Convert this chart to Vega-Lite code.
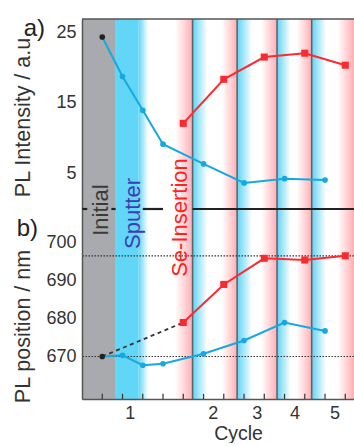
{
  "$schema": "https://vega.github.io/schema/vega-lite/v6.json",
  "padding": {"left": 12, "top": 17, "right": 0, "bottom": 0},
  "spacing": 0,
  "bounds": "flush",
  "config": {
    "view": {"stroke": null},
    "font": "Liberation Sans",
    "axis": {"grid": false, "zindex": 1, "labelOverlap": false, "labelFont": "Liberation Sans", "titleFont": "Liberation Sans", "labelColor": "#333", "titleColor": "#333", "titleFontWeight": "normal", "domainColor": "#555", "domainWidth": 1.5}
  },
  "datasets": {
    "pl": [
      {"panel": "a", "series": "Sputter", "step": 0, "value": 24.3},
      {"panel": "a", "series": "Sputter", "step": 1, "value": 18.7},
      {"panel": "a", "series": "Sputter", "step": 2, "value": 13.9},
      {"panel": "a", "series": "Sputter", "step": 3, "value": 9.1},
      {"panel": "a", "series": "Sputter", "step": 5, "value": 6.3},
      {"panel": "a", "series": "Sputter", "step": 7, "value": 3.6},
      {"panel": "a", "series": "Sputter", "step": 9, "value": 4.2},
      {"panel": "a", "series": "Sputter", "step": 11, "value": 4.0},
      {"panel": "a", "series": "Se-Insertion", "step": 4, "value": 12.05},
      {"panel": "a", "series": "Se-Insertion", "step": 6, "value": 18.3},
      {"panel": "a", "series": "Se-Insertion", "step": 8, "value": 21.45},
      {"panel": "a", "series": "Se-Insertion", "step": 10, "value": 22.0},
      {"panel": "a", "series": "Se-Insertion", "step": 12, "value": 20.3},
      {"panel": "b", "series": "Sputter", "step": 0, "value": 670.0},
      {"panel": "b", "series": "Sputter", "step": 1, "value": 670.3},
      {"panel": "b", "series": "Sputter", "step": 2, "value": 667.7},
      {"panel": "b", "series": "Sputter", "step": 3, "value": 668.1},
      {"panel": "b", "series": "Sputter", "step": 5, "value": 670.7},
      {"panel": "b", "series": "Sputter", "step": 7, "value": 674.2},
      {"panel": "b", "series": "Sputter", "step": 9, "value": 678.9},
      {"panel": "b", "series": "Sputter", "step": 11, "value": 676.7},
      {"panel": "b", "series": "Se-Insertion", "step": 4, "value": 678.9},
      {"panel": "b", "series": "Se-Insertion", "step": 6, "value": 688.9},
      {"panel": "b", "series": "Se-Insertion", "step": 8, "value": 695.75},
      {"panel": "b", "series": "Se-Insertion", "step": 10, "value": 695.3},
      {"panel": "b", "series": "Se-Insertion", "step": 12, "value": 696.4}
    ],
    "bands": [
      {"zone": "initial", "from": -1, "to": 0.67},
      {"zone": "sputter", "from": 0.67, "to": 1.78},
      {"zone": "fade_in", "from": 1.78, "to": 2.27},
      {"zone": "fade_in", "from": 4.46, "to": 5.18},
      {"zone": "fade_in", "from": 6.66, "to": 7.4},
      {"zone": "fade_in", "from": 8.63, "to": 9.3},
      {"zone": "fade_in", "from": 10.34, "to": 11.05},
      {"zone": "fade_out", "from": 3.6, "to": 4.46},
      {"zone": "fade_out", "from": 5.9, "to": 6.66},
      {"zone": "fade_out", "from": 7.85, "to": 8.63},
      {"zone": "fade_out", "from": 9.6, "to": 10.34},
      {"zone": "fade_out", "from": 11.6, "to": 12.43}
    ],
    "cycles": [
      {"cycle": "1", "center": 1.38},
      {"cycle": "2", "center": 5.48, "start": 4.46},
      {"cycle": "3", "center": 7.65, "start": 6.66},
      {"cycle": "4", "center": 9.52, "start": 8.63},
      {"cycle": "5", "center": 11.49, "start": 10.34}
    ],
    "refs": [{"level": 670}, {"level": 696.4}],
    "separator": [
      {"from": -1, "to": -0.74},
      {"from": 0.45, "to": 0.66},
      {"from": 2.0, "to": 3.0},
      {"from": 4.46, "to": 12.43}
    ]
  },
  "vconcat": [
    {
      "width": 272,
      "height": 190,
      "layer": [
        {
          "data": {"name": "bands"},
          "transform": [{"filter": "datum.zone == 'initial'"}],
          "mark": {"type": "rect", "fill": "#a8aaad"},
          "encoding": {
            "x": {"field": "from", "type": "quantitative", "scale": {"domain": [-1, 12.43], "zero": false, "nice": false}, "axis": null},
            "x2": {"field": "to"}
          }
        },
        {
          "data": {"name": "bands"},
          "transform": [{"filter": "datum.zone == 'sputter'"}],
          "mark": {"type": "rect", "fill": "#62d6f6"},
          "encoding": {"x": {"field": "from", "type": "quantitative", "scale": {"domain": [-1, 12.43], "zero": false, "nice": false}, "axis": null}, "x2": {"field": "to"}}
        },
        {
          "data": {"name": "bands"},
          "transform": [{"filter": "datum.zone == 'fade_in'"}],
          "mark": {"type": "rect", "fill": {"gradient": "linear", "x1": 0, "y1": 0, "x2": 1, "y2": 0, "stops": [{"offset": 0, "color": "#5fd4f5"}, {"offset": 0.45, "color": "#a8e7f9"}, {"offset": 1, "color": "#ffffff"}]}},
          "encoding": {"x": {"field": "from", "type": "quantitative", "scale": {"domain": [-1, 12.43], "zero": false, "nice": false}, "axis": null}, "x2": {"field": "to"}}
        },
        {
          "data": {"name": "bands"},
          "transform": [{"filter": "datum.zone == 'fade_out'"}],
          "mark": {"type": "rect", "fill": {"gradient": "linear", "x1": 0, "y1": 0, "x2": 1, "y2": 0, "stops": [{"offset": 0, "color": "#ffffff"}, {"offset": 0.5, "color": "#ffd8da"}, {"offset": 1, "color": "#ffaeb3"}]}},
          "encoding": {"x": {"field": "from", "type": "quantitative", "scale": {"domain": [-1, 12.43], "zero": false, "nice": false}, "axis": null}, "x2": {"field": "to"}}
        },
        {
          "data": {"name": "cycles"},
          "transform": [{"filter": "datum.start != null"}],
          "mark": {"type": "rule", "color": "#5b6770", "strokeWidth": 1.6},
          "encoding": {"x": {"field": "start", "type": "quantitative", "scale": {"domain": [-1, 12.43], "zero": false, "nice": false}, "axis": null}}
        },
        {
          "data": {"values": [{"edge": "top"}]},
          "mark": {"type": "rule", "color": "#555", "strokeWidth": 1.5},
          "encoding": {"y": {"datum": 26.85, "type": "quantitative", "scale": {"domain": [-0.1, 26.85], "zero": false, "nice": false}}}
        },
        {
          "data": {"name": "pl"},
          "transform": [{"filter": "datum.panel == 'a'"}],
          "mark": {"type": "line", "strokeWidth": 2},
          "encoding": {
            "x": {"field": "step", "type": "quantitative", "scale": {"domain": [-1, 12.43], "zero": false, "nice": false}, "axis": null},
            "y": {"field": "value", "type": "quantitative", "scale": {"domain": [-0.1, 26.85], "zero": false, "nice": false}, "axis": {"zindex": 1, "values": [5, 15, 25], "ticks": false, "labelPadding": 6, "labelFontSize": 18, "title": "PL Intensity / a.u.", "titleFontSize": 21.5, "titleAngle": 270, "titleBaseline": "middle", "titleX": -59, "titleY": 95}},
            "color": {"field": "series", "type": "nominal", "scale": {"domain": ["Sputter", "Se-Insertion"], "range": ["#16a8e2", "#fb2a30"]}, "legend": null}
          }
        },
        {
          "data": {"name": "pl"},
          "transform": [{"filter": "datum.panel == 'a'"}],
          "mark": {"type": "point", "filled": true, "opacity": 1},
          "encoding": {
            "x": {"field": "step", "type": "quantitative", "scale": {"domain": [-1, 12.43], "zero": false, "nice": false}, "axis": null},
            "y": {"field": "value", "type": "quantitative", "scale": {"domain": [-0.1, 26.85], "zero": false, "nice": false}},
            "shape": {"field": "series", "type": "nominal", "scale": {"domain": ["Sputter", "Se-Insertion"], "range": ["circle", "square"]}, "legend": null},
            "size": {"field": "series", "type": "nominal", "scale": {"domain": ["Sputter", "Se-Insertion"], "range": [32, 50]}, "legend": null},
            "color": {"condition": {"test": "datum.step == 0", "value": "#222222"}, "field": "series", "type": "nominal", "scale": {"domain": ["Sputter", "Se-Insertion"], "range": ["#16a8e2", "#fb2a30"]}, "legend": null}
          }
        },
        {
          "data": {"values": [{"label": "a)"}]},
          "mark": {"type": "text", "fontSize": 24, "color": "#222", "align": "center", "baseline": "middle"},
          "encoding": {"text": {"field": "label"}, "x": {"datum": -3.35, "type": "quantitative", "scale": {"domain": [-1, 12.43], "zero": false, "nice": false}, "axis": null}, "y": {"datum": 25.38, "type": "quantitative", "scale": {"domain": [-0.1, 26.85], "zero": false, "nice": false}}}
        }
      ]
    },
    {
      "width": 272,
      "height": 190,
      "layer": [
        {
          "data": {"name": "bands"},
          "transform": [{"filter": "datum.zone == 'initial'"}],
          "mark": {"type": "rect", "fill": "#a8aaad"},
          "encoding": {
            "x": {"field": "from", "type": "quantitative", "scale": {"domain": [-1, 12.43], "zero": false, "nice": false}, "axis": {
              "orient": "bottom",
              "zindex": 1,
              "labels": false,
              "ticks": false,
              "domain": true,
              "title": "Cycle",
              "titleFontSize": 19.5,
              "titleX": 156,
              "titlePadding": 25
            }},
            "x2": {"field": "to"}
          }
        },
        {
          "data": {"name": "bands"},
          "transform": [{"filter": "datum.zone == 'sputter'"}],
          "mark": {"type": "rect", "fill": "#62d6f6"},
          "encoding": {"x": {"field": "from", "type": "quantitative", "scale": {"domain": [-1, 12.43], "zero": false, "nice": false}, "title": "Cycle"}, "x2": {"field": "to"}}
        },
        {
          "data": {"name": "bands"},
          "transform": [{"filter": "datum.zone == 'fade_in'"}],
          "mark": {"type": "rect", "fill": {"gradient": "linear", "x1": 0, "y1": 0, "x2": 1, "y2": 0, "stops": [{"offset": 0, "color": "#5fd4f5"}, {"offset": 0.45, "color": "#a8e7f9"}, {"offset": 1, "color": "#ffffff"}]}},
          "encoding": {"x": {"field": "from", "type": "quantitative", "scale": {"domain": [-1, 12.43], "zero": false, "nice": false}, "title": "Cycle"}, "x2": {"field": "to"}}
        },
        {
          "data": {"name": "bands"},
          "transform": [{"filter": "datum.zone == 'fade_out'"}],
          "mark": {"type": "rect", "fill": {"gradient": "linear", "x1": 0, "y1": 0, "x2": 1, "y2": 0, "stops": [{"offset": 0, "color": "#ffffff"}, {"offset": 0.5, "color": "#ffd8da"}, {"offset": 1, "color": "#ffaeb3"}]}},
          "encoding": {"x": {"field": "from", "type": "quantitative", "scale": {"domain": [-1, 12.43], "zero": false, "nice": false}, "title": "Cycle"}, "x2": {"field": "to"}}
        },
        {
          "data": {"name": "cycles"},
          "transform": [{"filter": "datum.start != null"}],
          "mark": {"type": "rule", "color": "#5b6770", "strokeWidth": 1.6},
          "encoding": {"x": {"field": "start", "type": "quantitative", "scale": {"domain": [-1, 12.43], "zero": false, "nice": false}, "title": "Cycle"}}
        },
        {
          "data": {"name": "refs"},
          "mark": {"type": "rule", "color": "#333", "strokeWidth": 1.2, "strokeDash": [1.5, 1.5]},
          "encoding": {"y": {"field": "level", "type": "quantitative", "scale": {"domain": [658.85, 708.68], "zero": false, "nice": false}, "title": "PL position / nm"}}
        },
        {
          "data": {"name": "pl"},
          "transform": [{"filter": "datum.panel == 'b'"}],
          "mark": {"type": "rule", "color": "#333", "strokeWidth": 1.2},
          "encoding": {"x": {"field": "step", "type": "quantitative", "scale": {"domain": [-1, 12.43], "zero": false, "nice": false}, "title": "Cycle"}, "y": {"datum": 658.85, "type": "quantitative", "scale": {"domain": [658.85, 708.68], "zero": false, "nice": false}, "title": "PL position / nm"}, "y2": {"datum": 660.2}}
        },
        {
          "data": {"name": "separator"},
          "mark": {"type": "rule", "color": "#222", "strokeWidth": 2.2},
          "encoding": {"x": {"field": "from", "type": "quantitative", "scale": {"domain": [-1, 12.43], "zero": false, "nice": false}, "title": "Cycle"}, "x2": {"field": "to"}, "y": {"datum": 708.68, "type": "quantitative", "scale": {"domain": [658.85, 708.68], "zero": false, "nice": false}, "title": "PL position / nm"}}
        },
        {
          "data": {"name": "pl"},
          "transform": [{"filter": "datum.panel == 'b' && ((datum.series == 'Sputter' && datum.step == 0) || (datum.series == 'Se-Insertion' && datum.step == 4))"}],
          "mark": {"type": "line", "color": "#333", "strokeWidth": 1.8, "strokeDash": [4, 3.5]},
          "encoding": {"x": {"field": "step", "type": "quantitative", "scale": {"domain": [-1, 12.43], "zero": false, "nice": false}, "title": "Cycle"}, "y": {"field": "value", "type": "quantitative", "scale": {"domain": [658.85, 708.68], "zero": false, "nice": false}, "title": "PL position / nm"}}
        },
        {
          "data": {"name": "pl"},
          "transform": [{"filter": "datum.panel == 'b'"}],
          "mark": {"type": "line", "strokeWidth": 2},
          "encoding": {
            "x": {"field": "step", "type": "quantitative", "scale": {"domain": [-1, 12.43], "zero": false, "nice": false}, "title": "Cycle"},
            "y": {"field": "value", "type": "quantitative", "scale": {"domain": [658.85, 708.68], "zero": false, "nice": false}, "axis": {"zindex": 1, "values": [670, 680, 690, 700], "ticks": false, "labelPadding": 6, "labelFontSize": 18, "title": "PL position / nm", "titleFontSize": 21.5, "titleAngle": 270, "titleBaseline": "middle", "titleX": -59, "titleY": 117}},
            "color": {"field": "series", "type": "nominal", "scale": {"domain": ["Sputter", "Se-Insertion"], "range": ["#16a8e2", "#fb2a30"]}, "legend": null}
          }
        },
        {
          "data": {"name": "pl"},
          "transform": [{"filter": "datum.panel == 'b'"}],
          "mark": {"type": "point", "filled": true, "opacity": 1},
          "encoding": {
            "x": {"field": "step", "type": "quantitative", "scale": {"domain": [-1, 12.43], "zero": false, "nice": false}, "title": "Cycle"},
            "y": {"field": "value", "type": "quantitative", "scale": {"domain": [658.85, 708.68], "zero": false, "nice": false}, "title": "PL position / nm"},
            "shape": {"field": "series", "type": "nominal", "scale": {"domain": ["Sputter", "Se-Insertion"], "range": ["circle", "square"]}, "legend": null},
            "size": {"field": "series", "type": "nominal", "scale": {"domain": ["Sputter", "Se-Insertion"], "range": [32, 50]}, "legend": null},
            "color": {"condition": {"test": "datum.step == 0", "value": "#222222"}, "field": "series", "type": "nominal", "scale": {"domain": ["Sputter", "Se-Insertion"], "range": ["#16a8e2", "#fb2a30"]}, "legend": null}
          }
        },
        {
          "data": {"name": "cycles"},
          "mark": {"type": "text", "fontSize": 18, "color": "#333", "align": "center", "baseline": "middle"},
          "encoding": {"text": {"field": "cycle"}, "x": {"field": "center", "type": "quantitative", "scale": {"domain": [-1, 12.43], "zero": false, "nice": false}, "title": "Cycle"}, "y": {"datum": 654.8, "type": "quantitative", "scale": {"domain": [658.85, 708.68], "zero": false, "nice": false}, "title": "PL position / nm"}}
        },
        {
          "data": {"values": [{"label": "Initial"}]},
          "mark": {"type": "text", "fontSize": 22, "color": "#3a3a3a", "angle": 270, "align": "center", "baseline": "middle"},
          "encoding": {"text": {"field": "label"}, "x": {"datum": -0.06, "type": "quantitative", "scale": {"domain": [-1, 12.43], "zero": false, "nice": false}, "title": "Cycle"}, "y": {"datum": 708.4, "type": "quantitative", "scale": {"domain": [658.85, 708.68], "zero": false, "nice": false}, "title": "PL position / nm"}}
        },
        {
          "data": {"values": [{"label": "Sputter"}]},
          "mark": {"type": "text", "fontSize": 22, "color": "#3c3cb6", "angle": 270, "align": "center", "baseline": "middle"},
          "encoding": {"text": {"field": "label"}, "x": {"datum": 1.52, "type": "quantitative", "scale": {"domain": [-1, 12.43], "zero": false, "nice": false}, "title": "Cycle"}, "y": {"datum": 707.5, "type": "quantitative", "scale": {"domain": [658.85, 708.68], "zero": false, "nice": false}, "title": "PL position / nm"}}
        },
        {
          "data": {"values": [{"label": "Se-Insertion"}]},
          "mark": {"type": "text", "fontSize": 22, "color": "#ff2222", "angle": 270, "align": "center", "baseline": "middle"},
          "encoding": {"text": {"field": "label"}, "x": {"datum": 3.84, "type": "quantitative", "scale": {"domain": [-1, 12.43], "zero": false, "nice": false}, "title": "Cycle"}, "y": {"datum": 706.45, "type": "quantitative", "scale": {"domain": [658.85, 708.68], "zero": false, "nice": false}, "title": "PL position / nm"}}
        },
        {
          "data": {"values": [{"label": "b)"}]},
          "mark": {"type": "text", "fontSize": 24, "color": "#222", "align": "center", "baseline": "middle"},
          "encoding": {"text": {"field": "label"}, "x": {"datum": -3.7, "type": "quantitative", "scale": {"domain": [-1, 12.43], "zero": false, "nice": false}, "title": "Cycle"}, "y": {"datum": 703.4, "type": "quantitative", "scale": {"domain": [658.85, 708.68], "zero": false, "nice": false}, "title": "PL position / nm"}}
        }
      ]
    }
  ]
}
